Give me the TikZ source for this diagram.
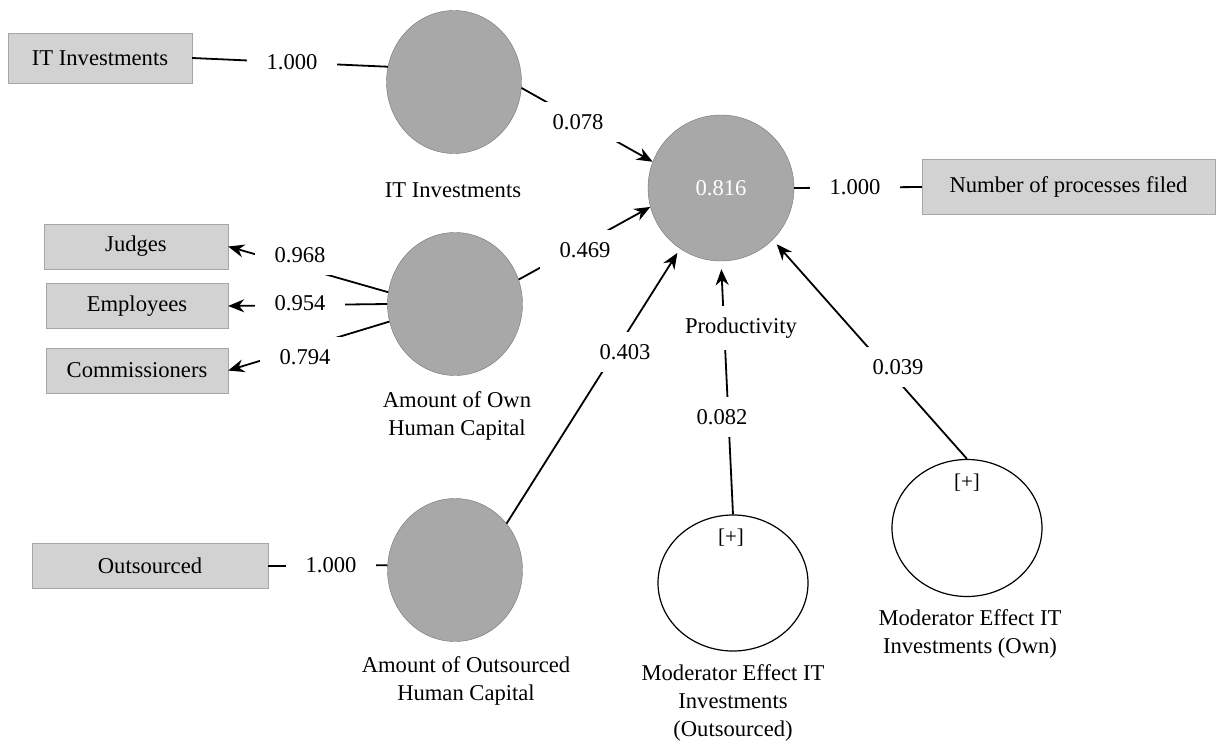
\documentclass[tikz,border=0pt]{standalone}
\usepackage{fontspec}
\setmainfont{Liberation Serif}
\usetikzlibrary{shapes.geometric,arrows.meta}

\definecolor{lvgray}{HTML}{A8A8A8}
\definecolor{mvgray}{HTML}{D2D2D2}

\begin{document}
\begin{tikzpicture}[x=1pt,y=-1pt,
    every node/.style={font=\fontsize{22.6}{28}\selectfont},
    indicator/.style={draw=gray!70,fill=mvgray,inner sep=0pt,
        minimum height=45pt},
    latent/.style={ellipse,draw=gray!90!black,fill=lvgray,inner sep=0pt,
        minimum width=135pt,minimum height=143pt},
    moderator/.style={ellipse,draw,line width=1.2pt,fill=white,
        inner sep=0pt,minimum width=150pt,minimum height=136pt},
    coef/.style={fill=white,inner xsep=20pt,inner ysep=12pt},
    link/.style={line width=1.8pt},
    pointer/.style={link,-{Stealth[length=16pt,width=13pt]}}]
\useasboundingbox (0,0) rectangle (1219,744);
\coordinate (n1) at (100,58);
\coordinate (n2) at (136,246.5);
\coordinate (n3) at (137,306);
\coordinate (n4) at (137,370.5);
\coordinate (n5) at (150,566);
\coordinate (n6) at (1068.5,187);
\node [indicator,minimum width=184pt,minimum height=50pt]
    (itbox) at (n1) {IT Investments};
\node [indicator,minimum width=184pt] (judges) at (n2) {Judges};
\node [indicator,minimum width=182pt] (empl) at (n3) {Employees};
\node [indicator,minimum width=182pt] (comm) at (n4) {Commissioners};
\node [indicator,minimum width=236pt] (outbox) at (n5) {Outsourced};
\node [indicator,minimum width=293pt,minimum height=55pt]
    (procbox) at (n6) {Number of processes filed};
\node [latent] (itinv) at (454,82) {};
\node [latent] (ownhc) at (455,304) {};
\node [latent] (outhc) at (455,570) {};
\node [latent,minimum width=146pt,minimum height=146pt,text=white]
    (prod) at (721,188) {0.816};
\node [moderator] (modout) at (733,583) {};
\node [moderator,minimum height=137pt] (modown) at (967,528) {};
\node [font=\fontsize{21}{24}\selectfont] (plusout) at (731,538) {[+]};
\node [font=\fontsize{21}{24}\selectfont] (plusown) at (967,483) {[+]};
\draw [link] (itbox.east) -- (itinv.167);
\draw [link] (prod.east) -- (procbox.west);
\draw [link] (outbox.east) -- (outhc.176);
\draw [pointer] (ownhc.170) -- (judges.east);
\draw [pointer] (ownhc.180) -- (empl.east);
\draw [pointer] (ownhc.195) -- (comm.east);
\draw [pointer] (itinv.-5) -- (prod.159);
\draw [pointer] (ownhc.21) -- (prod.195);
\draw [pointer,shorten >=5pt] (outhc.42) -- (prod.236);
\draw [pointer,shorten >=8pt] (modout.north) -- (prod.south);
\draw [pointer,shorten >=6pt] (modown.north) -- (prod.-45);
\node [coef] (w1) at (292,62) {1.000};
\node [coef] (w2) at (578,122) {0.078};
\node [coef] (w3) at (300,255) {0.968};
\node [coef] (w4) at (300,303) {0.954};
\node [coef] (w5) at (305,357) {0.794};
\node [coef] (w6) at (585,250) {0.469};
\node [coef] (w7) at (625,352) {0.403};
\node [coef] (w8) at (722,417) {0.082};
\node [coef] (w9) at (898,367) {0.039};
\node [coef] (w10) at (855,187) {1.000};
\node [coef] (w11) at (331,565) {1.000};
\node (itname) at (453,190) {IT Investments};
\node [align=center] (ownname) at (457,416)
    {Amount of Own\\Human Capital};
\node [align=center] (outname) at (466,681)
    {Amount of Outsourced\\Human Capital};
\node [fill=white,inner xsep=2pt,inner ysep=12pt]
    (prodname) at (741,328) {Productivity};
\node [align=center] (modoutname) at (733,703)
    {Moderator Effect IT\\Investments\\(Outsourced)};
\node [align=center] (modownname) at (970,634)
    {Moderator Effect IT\\Investments (Own)};
\end{tikzpicture}
\end{document}
